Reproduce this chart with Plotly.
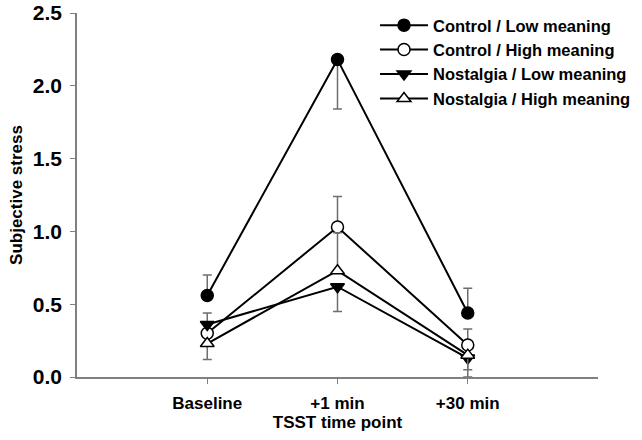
import plotly.graph_objects as go

timepoints = ["Baseline", "+1 min", "+30 min"]

series_names = ["Control / Low meaning", "Control / High meaning",
                "Nostalgia / Low meaning", "Nostalgia / High meaning"]

control_low = [0.56, 2.18, 0.44]
control_high = [0.30, 1.03, 0.22]
nostalgia_low = [0.36, 0.62, 0.13]
nostalgia_high = [0.23, 0.73, 0.15]

# error bars (upper / lower parts shown)
control_low_up = [0.14, 0.0, 0.17]
control_low_down = [0.0, 0.34, 0.0]
control_high_up = [0.0, 0.21, 0.11]
control_high_down = [0.08, 0.0, 0.0]
nostalgia_low_up = [0.08, 0.0, 0.0]
nostalgia_low_down = [0.0, 0.17, 0.13]
nostalgia_high_up = [0.0, 0.26, 0.0]
nostalgia_high_down = [0.11, 0.0, 0.10]

values = [control_low, control_high, nostalgia_low, nostalgia_high]
ups = [control_low_up, control_high_up, nostalgia_low_up, nostalgia_high_up]
downs = [control_low_down, control_high_down, nostalgia_low_down, nostalgia_high_down]
symbols = ["circle", "circle", "triangle-down", "triangle-up"]
fills = ["black", "white", "black", "white"]
sizes = [12, 12, 12, 12]

fig = go.Figure()
for name, v, up, dn, sym, fc, sz in zip(series_names, values, ups, downs, symbols, fills, sizes):
    fig.add_trace(go.Scatter(
        x=[0, 1, 2], y=v, name=name, mode="lines+markers",
        line=dict(color="black", width=2),
        marker=dict(symbol=sym, size=sz, color=fc, line=dict(color="black", width=1.5)),
        error_y=dict(type="data", symmetric=False, array=up, arrayminus=dn,
                     color="#6e6e6e", thickness=1.5, width=4.5),
    ))

font_family = "Liberation Sans, Arial, sans-serif"
fig.update_layout(
    width=642, height=440,
    margin=dict(l=77, r=44, t=13, b=63, autoexpand=False),
    plot_bgcolor="white", paper_bgcolor="white",
    font=dict(family=font_family, size=17, color="black"),
    showlegend=True,
    legend=dict(x=0.572, y=1.014, xanchor="left", yanchor="top",
                font=dict(family=font_family, size=16.5, color="black", weight="bold"),
                bgcolor="rgba(0,0,0,0)", tracegroupgap=0, itemwidth=48),
    xaxis=dict(
        range=[-1.0, 3.0], tickmode="array", tickvals=[0, 1, 2], ticktext=timepoints,
        showline=True, linecolor="#808080", linewidth=1.5,
        ticks="outside", ticklen=5, tickcolor="#808080", tickwidth=1,
        ticklabelstandoff=5,
        showgrid=False, zeroline=False, automargin=False,
        tickfont=dict(family=font_family, size=17, color="black", weight="bold"),
        title=dict(text="TSST time point", standoff=4,
                   font=dict(family=font_family, size=17, color="black", weight="bold")),
    ),
    yaxis=dict(
        range=[0, 2.5], tickvals=[0, 0.5, 1.0, 1.5, 2.0, 2.5], tickformat=".1f",
        showline=True, linecolor="#808080", linewidth=1.5,
        ticks="outside", ticklen=5, tickcolor="#808080", tickwidth=1,
        ticklabelstandoff=4, ticklabeloverflow="allow",
        showgrid=False, zeroline=False, automargin=False,
        tickfont=dict(family=font_family, size=21, color="black", weight="bold"),
        title=dict(text="Subjective stress", standoff=6,
                   font=dict(family=font_family, size=17, color="black", weight="bold")),
    ),
)

fig.write_html("out.html", config={"displayModeBar": False},
               post_script="document.body.style.margin='0px';")
